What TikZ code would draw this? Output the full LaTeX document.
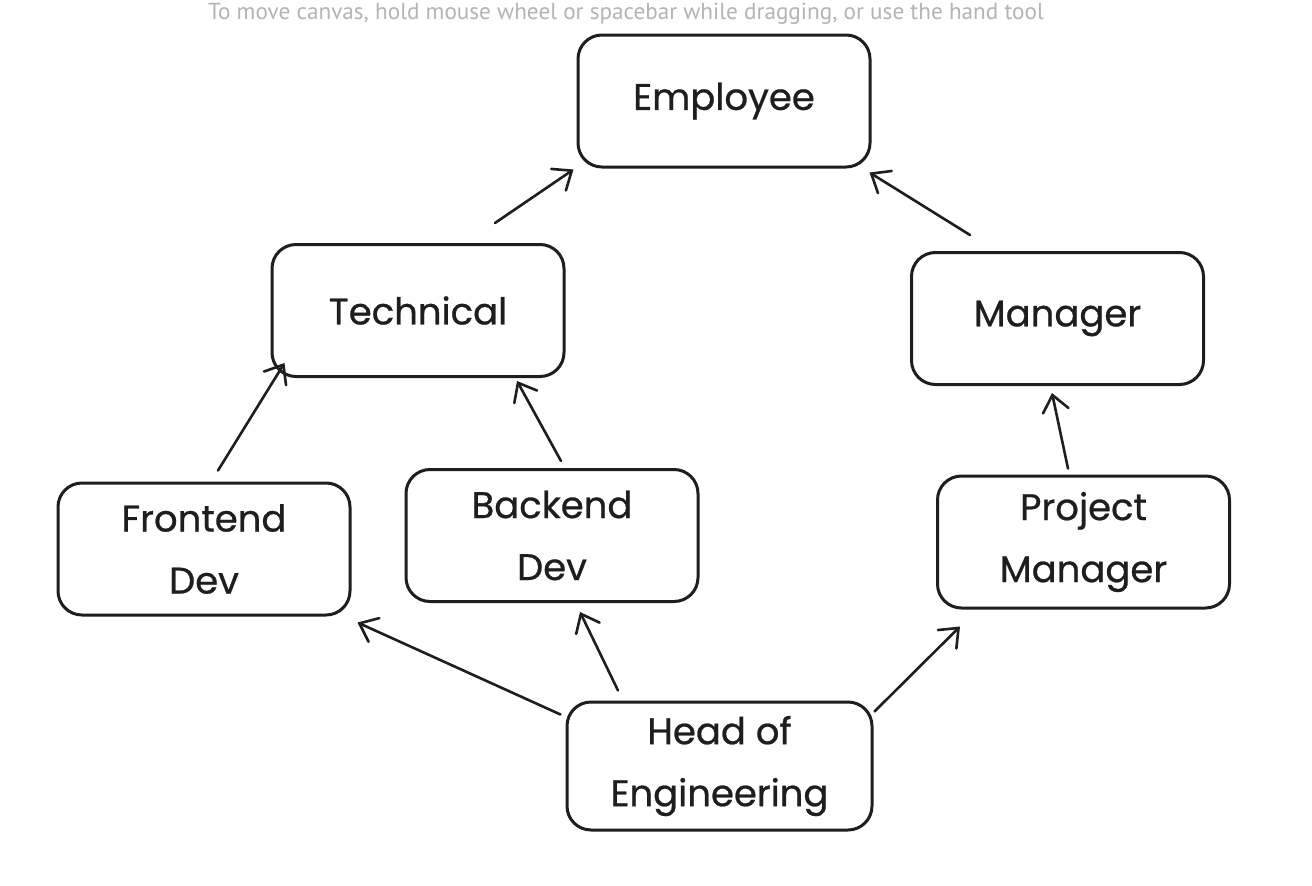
\documentclass[tikz,border=0pt]{standalone}
\usepackage{fontspec}
\setmainfont{Poppins}[BoldFont=Poppins, BoldFeatures={FakeBold=0.7}]
\newfontfamily\hintfont{PT Sans}
\usepackage{tikz}
\usetikzlibrary{arrows.meta}
\definecolor{tinta}{HTML}{1E1E1E}
\definecolor{niebla}{HTML}{B4B4B4}

\begin{document}
\begin{tikzpicture}[x=1pt, y=-1pt,
  card/.style={draw=tinta, fill=white, rounded corners=24pt, line width=3pt, align=center, font=\fontsize{37}{62}\bfseries, text=tinta, minimum width=292pt, minimum height=132pt, inner sep=0pt},
  link/.style={-{Straight Barb[length=16pt, width=26pt, line width=2.6pt, line cap=round]}, line width=2.6pt, line cap=round, tinta},
  hint/.style={font=\hintfont\fontsize{23.2}{26}\selectfont, text=niebla, inner sep=0pt}
]
\useasboundingbox[fill=white] (0,0) rectangle (1312,886);
\node[hint] (tip) at (626,14) {To move canvas, hold mouse wheel or spacebar while dragging, or use the hand tool};

% boxes
\node[card] (emp) at (724,101) {Employee};
\node[card] (tech) at (418,310.5) {Technical};
\node[card] (mgr) at (1057.5,318.5) {Manager};
\node[card] (fe) at (204,549) {Frontend\\Dev};
\node[card] (be) at (552,535.5) {Backend\\Dev};
\node[card] (pm) at (1083.5,542) {Project\\Manager};
\node[card, minimum width=305pt, minimum height=128pt] (head) at (719.5,766) {Head of\\Engineering};

% arrows
\draw[link] ([xshift=77pt, yshift=20pt]tech.north) -- ([xshift=-3pt, yshift=-1pt]emp.south west);
\draw[link] ([xshift=-87.5pt, yshift=16pt]mgr.north) -- ([xshift=-2pt, yshift=-4pt]emp.south east);
\draw[link] ([xshift=14pt, yshift=11pt]fe.north) -- ([xshift=14pt, yshift=15pt]tech.south west);
\draw[link] ([xshift=9pt, yshift=7pt]be.north) -- ([xshift=99pt, yshift=-3pt]tech.south);
\draw[link] ([xshift=-15.5pt, yshift=6pt]pm.north) -- ([xshift=-5.5pt, yshift=-7pt]mgr.south);
\draw[link] ([xshift=-5pt, yshift=-14pt]head.north west) -- ([xshift=6pt, yshift=-6pt]fe.south east);
\draw[link] ([xshift=-101.5pt, yshift=10pt]head.north) -- ([xshift=28pt, yshift=-9pt]be.south);
\draw[link] ([xshift=1pt, yshift=-11pt]head.north east) -- ([xshift=24pt, yshift=-17pt]pm.south west);
\end{tikzpicture}
\end{document}
